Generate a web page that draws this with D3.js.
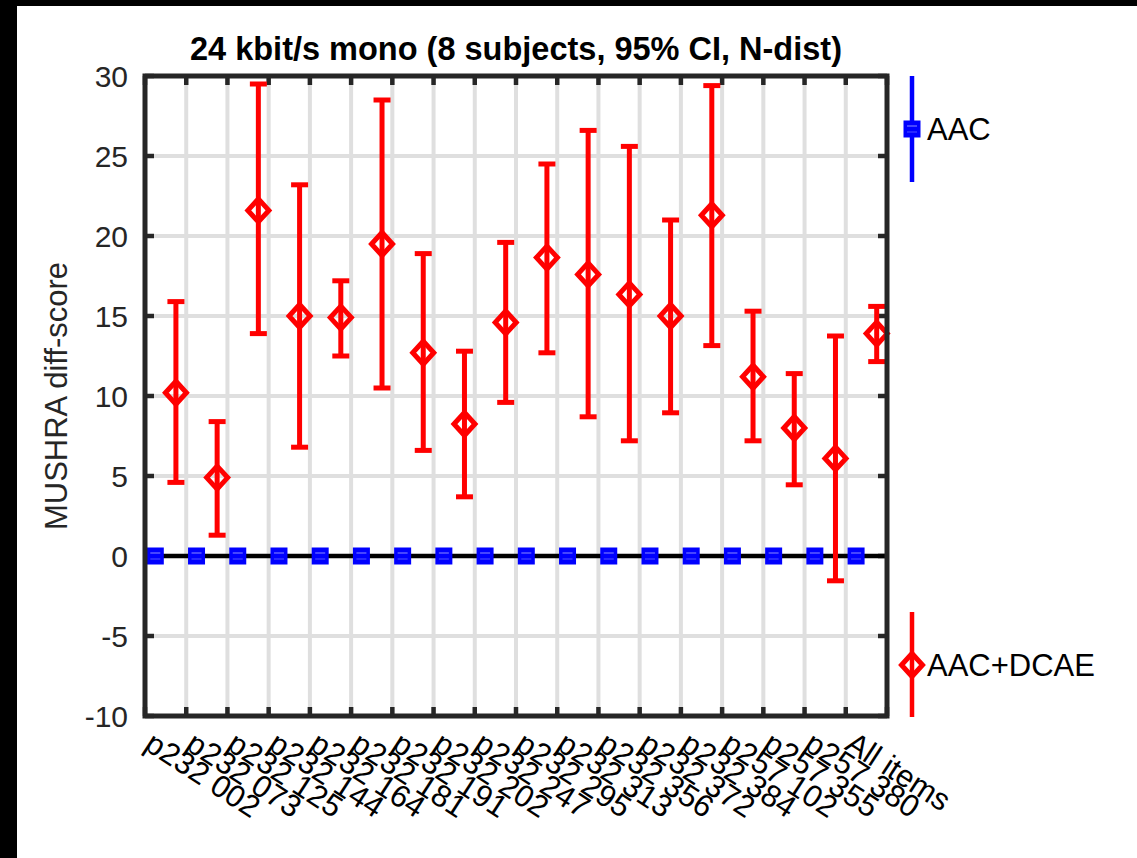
<!DOCTYPE html>
<html>
<head>
  <meta charset="utf-8">
  <title>MUSHRA diff-score</title>
  <script src="https://d3js.org/d3.v7.min.js"></script>
  <style>
  body {
    margin: 0;
    background: white;
  }
  text {
    font-family: "Liberation Sans", Arial, Helvetica, sans-serif;
  }
  .grid line {
    stroke: #dfdfdf;
    stroke-width: 4px;
  }
  .tickmark {
    stroke: #262626;
    stroke-width: 4.5px;
  }
  </style>
</head>
<body>
<div id='container'></div>

<script>

  // items on the x axis (label i sits on tick i)
  var categories = ['p232 002', 'p232 073', 'p232 125', 'p232 144', 'p232 164', 'p232 181',
    'p232 191', 'p232 202', 'p232 247', 'p232 295', 'p232 313', 'p232 356',
    'p232 372', 'p232 384', 'p257 102', 'p257 355', 'p257 380', 'All items']

  // AAC is the reference, so its diff-score is zero everywhere
  var aacMean = [0, 0, 0, 0, 0, 0, 0, 0, 0, 0, 0, 0, 0, 0, 0, 0, 0, 0]

  // AAC+DCAE mean and 95% CI bounds
  var dcaeMean = [10.2, 4.9, 21.6, 15.0, 14.9, 19.5, 12.7, 8.25, 14.6, 18.65, 17.6, 16.35, 15.0, 21.3, 11.2, 8.0, 6.1, 13.9]
  var dcaeLow  = [4.6, 1.3, 13.9, 6.8, 12.5, 10.5, 6.6, 3.7, 9.6, 12.7, 8.7, 7.2, 8.95, 13.15, 7.2, 4.45, -1.55, 12.15]
  var dcaeHigh = [15.9, 8.4, 29.5, 23.2, 17.2, 28.5, 18.9, 12.8, 19.6, 24.5, 26.6, 25.6, 21.0, 29.4, 15.3, 11.4, 13.75, 15.6]

  var yTicks = [-10, -5, 0, 5, 10, 15, 20, 25, 30]

  const width = 1137
  const height = 858

  var svg = d3.select('#container')
    .append('svg')
    .attr('width', width)
    .attr('height', height)
    .style('display', 'block')

  // black strips along top and left edge of the screenshot
  svg.append('rect').attr('x', 0).attr('y', 0).attr('width', width).attr('height', 6).style('fill', 'black')
  svg.append('rect').attr('x', 0).attr('y', 0).attr('width', 17).attr('height', height).style('fill', 'black')

  var plotLeft = 145, plotRight = 887, plotTop = 76, plotBottom = 716

  var xScale = d3.scaleLinear()
    .domain([0, categories.length])
    .range([plotLeft, plotRight])

  var yScale = d3.scaleLinear()
    .domain([-10, 30])
    .range([plotBottom, plotTop])

  var xTicks = d3.range(0, categories.length + 1)

  // grid
  var grid = svg.append('g').classed('grid', true)
  grid.selectAll('.vx')
    .data(xTicks.slice(1, -1))
    .enter()
    .append('line')
    .attr('x1', d => xScale(d)).attr('x2', d => xScale(d))
    .attr('y1', plotTop).attr('y2', plotBottom)
  grid.selectAll('.hy')
    .data(yTicks.slice(1, -1))
    .enter()
    .append('line')
    .attr('x1', plotLeft).attr('x2', plotRight)
    .attr('y1', d => yScale(d)).attr('y2', d => yScale(d))

  // tick marks on all four sides, pointing inward
  var tickLen = 9
  var ticks = svg.append('g')
  xTicks.forEach(function(t) {
    ticks.append('line').classed('tickmark', true)
      .attr('x1', xScale(t)).attr('x2', xScale(t)).attr('y1', plotBottom).attr('y2', plotBottom - tickLen)
    ticks.append('line').classed('tickmark', true)
      .attr('x1', xScale(t)).attr('x2', xScale(t)).attr('y1', plotTop).attr('y2', plotTop + tickLen)
  })
  yTicks.forEach(function(t) {
    ticks.append('line').classed('tickmark', true)
      .attr('x1', plotLeft).attr('x2', plotLeft + tickLen).attr('y1', yScale(t)).attr('y2', yScale(t))
    ticks.append('line').classed('tickmark', true)
      .attr('x1', plotRight).attr('x2', plotRight - tickLen).attr('y1', yScale(t)).attr('y2', yScale(t))
  })

  // zero line
  svg.append('line')
    .attr('x1', plotLeft).attr('x2', plotRight)
    .attr('y1', yScale(0)).attr('y2', yScale(0))
    .style('stroke', 'black')
    .style('stroke-width', 4.5)

  // AAC: blue squares
  function drawSquare(g, cx, cy) {
    g.append('rect')
      .attr('x', cx - 8.5).attr('y', cy - 8.5)
      .attr('width', 17).attr('height', 17)
      .style('fill', '#0000ff')
    g.append('line')
      .attr('x1', cx - 5).attr('x2', cx + 5).attr('y1', cy - 3).attr('y2', cy - 3)
      .style('stroke', '#8c8cff').style('stroke-width', 1)
    g.append('line')
      .attr('x1', cx - 5).attr('x2', cx + 5).attr('y1', cy + 3).attr('y2', cy + 3)
      .style('stroke', '#5050ff').style('stroke-width', 1)
  }

  var aacG = svg.append('g')
  aacMean.forEach(function(v, i) {
    drawSquare(aacG, xScale(i + 0.25), yScale(v))
  })

  // AAC+DCAE: red error bars with open diamonds
  var diamond = 'M0,-11.5L10.5,0L0,11.5L-10.5,0Z'
  var capHalf = 8.5

  var dcaeG = svg.append('g')
    .selectAll('g')
    .data(dcaeMean)
    .enter()
    .append('g')

  dcaeG.append('line')
    .attr('x1', (d, i) => xScale(i + 0.75)).attr('x2', (d, i) => xScale(i + 0.75))
    .attr('y1', (d, i) => yScale(dcaeLow[i])).attr('y2', (d, i) => yScale(dcaeHigh[i]))
    .style('stroke', 'red').style('stroke-width', 5)
  dcaeG.append('line')
    .attr('x1', (d, i) => xScale(i + 0.75) - capHalf).attr('x2', (d, i) => xScale(i + 0.75) + capHalf)
    .attr('y1', (d, i) => yScale(dcaeLow[i])).attr('y2', (d, i) => yScale(dcaeLow[i]))
    .style('stroke', 'red').style('stroke-width', 5)
  dcaeG.append('line')
    .attr('x1', (d, i) => xScale(i + 0.75) - capHalf).attr('x2', (d, i) => xScale(i + 0.75) + capHalf)
    .attr('y1', (d, i) => yScale(dcaeHigh[i])).attr('y2', (d, i) => yScale(dcaeHigh[i]))
    .style('stroke', 'red').style('stroke-width', 5)
  dcaeG.append('path')
    .attr('d', diamond)
    .attr('transform', (d, i) => 'translate(' + xScale(i + 0.75) + ',' + yScale(d) + ')')
    .style('fill', 'none').style('stroke', 'red').style('stroke-width', 5)

  // axes box
  svg.append('rect')
    .attr('x', plotLeft).attr('y', plotTop)
    .attr('width', plotRight - plotLeft).attr('height', plotBottom - plotTop)
    .style('fill', 'none')
    .style('stroke', '#262626')
    .style('stroke-width', 5)

  // y axis labels
  var yAxis = d3.axisLeft(yScale).tickValues(yTicks).tickSize(0).tickPadding(0)
    .tickFormat(d => String(d))
  var yAxisG = svg.append('g')
    .attr('transform', 'translate(128,0)')
    .call(yAxis)
  yAxisG.select('.domain').remove()
  yAxisG.selectAll('text')
    .attr('dy', '0.36em')
    .style('font-family', '"Liberation Sans", Arial, sans-serif')
    .style('font-size', '30px')
    .style('fill', '#262626')

  // x axis labels, rotated
  var xAxis = d3.axisBottom(xScale)
    .tickValues(d3.range(categories.length))
    .tickFormat(i => categories[i])
    .tickSize(0)
  var xAxisG = svg.append('g')
    .attr('transform', 'translate(0,' + (plotBottom + 10) + ')')
    .call(xAxis)
  xAxisG.select('.domain').remove()
  xAxisG.selectAll('text')
    .attr('x', 0).attr('y', 0).attr('dy', '0.75em')
    .attr('transform', 'translate(10,3) rotate(33)')
    .style('text-anchor', 'start')
    .style('font-family', '"Liberation Sans", Arial, sans-serif')
    .style('font-size', '31px')
    .style('fill', 'black')

  // y label
  svg.append('text')
    .attr('transform', 'translate(67,' + ((plotTop + plotBottom) / 2) + ') rotate(-90)')
    .style('text-anchor', 'middle')
    .style('font-size', '31px')
    .style('fill', '#262626')
    .text('MUSHRA diff-score')

  // title
  svg.append('text')
    .attr('x', (plotLeft + plotRight) / 2)
    .attr('y', 60)
    .style('text-anchor', 'middle')
    .style('font-size', '32.5px')
    .style('font-weight', 'bold')
    .style('fill', 'black')
    .text('24 kbit/s mono (8 subjects, 95% CI, N-dist)')

  // legend
  var legX = 912
  var leg = svg.append('g')
  leg.append('line')
    .attr('x1', legX).attr('x2', legX).attr('y1', 76).attr('y2', 182)
    .style('stroke', '#0000ff').style('stroke-width', 4.5)
  drawSquare(leg, legX, 129)
  leg.append('text')
    .attr('x', legX + 15).attr('y', 129).attr('dy', '0.36em')
    .style('font-size', '31px')
    .text('AAC')

  leg.append('line')
    .attr('x1', legX).attr('x2', legX).attr('y1', 612).attr('y2', 717)
    .style('stroke', 'red').style('stroke-width', 4.5)
  leg.append('path')
    .attr('d', diamond)
    .attr('transform', 'translate(' + legX + ',665)')
    .style('fill', 'none').style('stroke', 'red').style('stroke-width', 5)
  leg.append('text')
    .attr('x', legX + 15).attr('y', 665).attr('dy', '0.36em')
    .style('font-size', '31px')
    .text('AAC+DCAE')

</script>
</body>
</html>
